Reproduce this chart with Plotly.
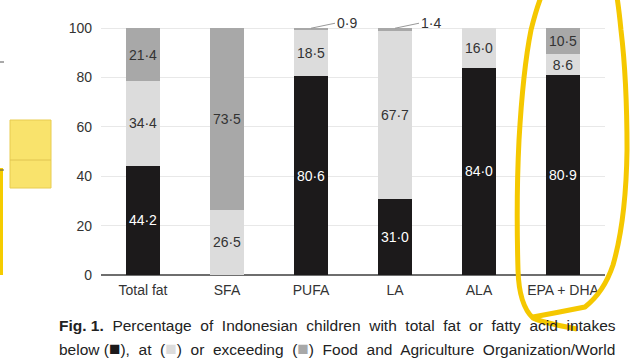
import plotly.graph_objects as go

categories = ["Total fat", "SFA", "PUFA", "LA", "ALA", "EPA + DHA"]
below = [44.2, 0, 80.6, 31.0, 84.0, 80.9]
at = [34.4, 26.5, 18.5, 67.7, 16.0, 8.6]
exceeding = [21.4, 73.5, 0.9, 1.4, 0, 10.5]
y_ticks = [0, 20, 40, 60, 80, 100]

W, H = 642, 361
L, R, T, B = 101, 37, 27, 86
PW = W - L - R
PH = H - T - B
FONT = "Liberation Sans"

def fmt(v):
    return ("%.1f" % v).replace(".", "·")

def labels(vals):
    return [fmt(v) if v >= 5 else "" for v in vals]

fig = go.Figure()
for vals, col, tcol, name in [(below, "#1c1a1b", "white", "below"),
                              (at, "#dcdcdc", "#333", "at"),
                              (exceeding, "#a8a8a8", "#333", "exceeding")]:
    fig.add_trace(go.Bar(x=categories, y=vals, marker_color=col, marker_line_width=0, width=0.4,
                         text=labels(vals), textposition="inside", insidetextanchor="middle",
                         textangle=0, constraintext="none",
                         textfont=dict(color=tcol, size=14, family=FONT), name=name))

# outside labels for tiny segments
for i, v in enumerate(exceeding):
    if 0 < v < 5:
        fig.add_annotation(x=i, y=100, xref="x", yref="y", text=fmt(v),
                           ax=24, ay=-5, showarrow=True, arrowhead=0, arrowwidth=1,
                           arrowcolor="#999", xanchor="left", standoff=0,
                           font=dict(size=14, color="#333", family=FONT))

def px(x):
    return (x - L) / PW

def py(y):
    return (H - B - y) / PH

def P(x, y):
    return "%.4f,%.4f" % (px(x), py(y))

shapes = []
# yellow highlight rectangle
shapes.append(dict(type="rect", xref="paper", yref="paper", x0=px(10), x1=px(51), y0=py(188), y1=py(120),
                   fillcolor="#f9e36c", line=dict(color="#e8cc50", width=1), layer="above"))
shapes.append(dict(type="line", xref="paper", yref="paper", x0=px(10), x1=px(51), y0=py(160), y1=py(160),
                   line=dict(color="#e0c450", width=1)))
shapes.append(dict(type="rect", xref="paper", yref="paper", x0=px(0), x1=px(3), y0=py(275), y1=py(168),
                   fillcolor="#f5cc00", line=dict(width=0)))
# small dashes at the far left edge
for yy in (62, 170):
    shapes.append(dict(type="line", xref="paper", yref="paper", x0=px(0), x1=px(4), y0=py(yy), y1=py(yy),
                       line=dict(color="#555", width=1)))

# yellow hand-drawn loop around EPA+DHA
d1 = ("M %s Q %s %s Q %s %s Q %s %s Q %s %s Q %s %s" % (
    P(577, 329), P(540, 322), P(533, 318),
    P(519, 305), P(518, 270),
    P(516, 200), P(519, 140),
    P(523, 70), P(531, 30),
    P(536, 10), P(541, -3)))
d2 = ("M %s Q %s %s Q %s %s Q %s %s Q %s %s Q %s %s" % (
    P(533, 317), P(560, 312), P(585, 307),
    P(604, 292), P(613, 265),
    P(626, 220), P(627, 150),
    P(627, 80), P(621, 30),
    P(619, 10), P(617, -3)))
for d in (d1, d2):
    shapes.append(dict(type="path", xref="paper", yref="paper", path=d,
                       line=dict(color="#f5c800", width=5), layer="above"))

fig.update_layout(
    width=W, height=H, barmode="stack", showlegend=False,
    margin=dict(l=L, r=R, t=T, b=B),
    paper_bgcolor="white", plot_bgcolor="white",
    font=dict(family=FONT, color="#333", size=14),
    xaxis=dict(range=[-0.5, 5.5], showgrid=False, ticks="", tickfont=dict(size=14, color="#333"),
               showline=False, zeroline=False, ticklabelstandoff=5),
    yaxis=dict(range=[0, 100.5], tickvals=y_ticks, showgrid=True, gridcolor="#e8e8e8", gridwidth=1,
               zeroline=True, zerolinecolor="#6e6e6e", zerolinewidth=2, ticks="", ticklabelstandoff=8,
               tickfont=dict(size=14, color="#333")),
    shapes=shapes,
)

NB = "&nbsp;"
SQ = "<span style='color:%s;font-size:19px'>■</span>"
line1 = ("<b>Fig." + NB + "1.</b>" + NB + " Percentage" + NB + " of" + NB + " Indonesian" + NB + " children"
         + NB + " with" + NB + " total" + NB + " fat" + NB + " or" + NB + " fatty" + NB + " acid" + NB + " intakes")
line2 = ("below (" + SQ % "#1c1a1b" + ")," + NB + " at" + NB + " (" + SQ % "#dcdcdc" + ")"
         + NB + " or" + NB + " exceeding" + NB + " (" + SQ % "#a8a8a8" + ")" + NB + " Food"
         + NB + " and" + NB + " Agriculture" + NB + " Organization/World")
for txt, yy in [(line1, 325), (line2, 348)]:
    fig.add_annotation(xref="paper", yref="paper", x=px(57), y=py(yy), xanchor="left", yanchor="middle",
                       showarrow=False, align="left", text=txt,
                       font=dict(size=15.5, color="#222", family=FONT))

fig.write_html("out.html", config={"displayModeBar": False},
               post_script="document.body.style.margin='0px';")
